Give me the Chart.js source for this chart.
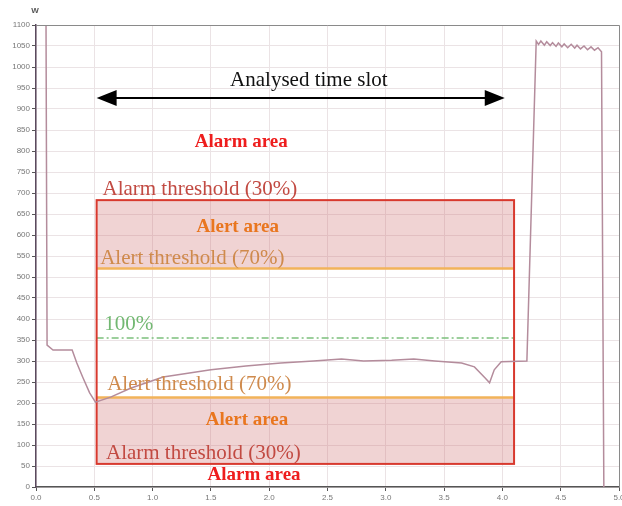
<!DOCTYPE html>
<html>
<head>
<meta charset="utf-8">
<script src="https://cdn.jsdelivr.net/npm/chart.js@4.4.0/dist/chart.umd.min.js"></script>
<style>
  html, body { margin: 0; padding: 0; background: #fff; }
  #wrap { width: 622px; height: 506px; position: relative; }
</style>
</head>
<body>
<div id="wrap"><canvas id="chart"></canvas></div>
<script>
// power curve (time in h, power in W)
const timeH = [0.085, 0.095, 0.146, 0.31, 0.35, 0.40, 0.46, 0.51, 0.64, 0.81, 1.09, 1.50, 1.80, 2.10, 2.38, 2.62,
  2.81, 3.05, 3.24, 3.42, 3.65, 3.76, 3.85, 3.89, 3.93, 3.99, 4.21, 4.29, 4.31, 4.33, 4.36, 4.38, 4.41, 4.43,
  4.46, 4.48, 4.51, 4.53, 4.56, 4.59, 4.62, 4.64, 4.67, 4.70, 4.73, 4.76, 4.79, 4.82, 4.85, 4.87];
const powerW = [1180, 338, 326, 326, 295, 262, 224, 202, 214, 235, 262, 279, 288, 295, 300, 305,
  300, 302, 305, 300, 295, 286, 260, 248, 279, 298, 300, 1062, 1054, 1062, 1052, 1060, 1051, 1058,
  1049, 1057, 1048, 1055, 1046, 1054, 1045, 1052, 1043, 1050, 1041, 1048, 1040, 1046, 1036, 0];

// analysed time slot and threshold levels
const slotStart = 0.52;
const slotEnd = 4.10;
const arrowEnd = 4.02;
const arrowLevel = 926;
const alarmHigh = 683;
const alertHigh = 520;
const nominalLevel = 355;
const alertLow = 213;
const alarmLow = 55;

const annotations = {
  id: "annotations",
  beforeDatasetsDraw(chart) {
    const { ctx, scales: { x, y } } = chart;
    const x0 = x.getPixelForValue(slotStart);
    const x1 = x.getPixelForValue(slotEnd);
    ctx.save();
    // shaded alert bands
    ctx.fillStyle = "rgba(205,110,110,0.30)";
    ctx.fillRect(x0, y.getPixelForValue(alarmHigh), x1 - x0, y.getPixelForValue(alertHigh) - y.getPixelForValue(alarmHigh));
    ctx.fillRect(x0, y.getPixelForValue(alertLow), x1 - x0, y.getPixelForValue(alarmLow) - y.getPixelForValue(alertLow));
    // alert threshold lines
    ctx.strokeStyle = "#f2b35a";
    ctx.lineWidth = 2.5;
    [alertHigh, alertLow].forEach((v) => {
      const py = y.getPixelForValue(v);
      ctx.beginPath();
      ctx.moveTo(x0, py);
      ctx.lineTo(x1, py);
      ctx.stroke();
    });
    // 100% line
    ctx.strokeStyle = "#7cc07c";
    ctx.lineWidth = 1.5;
    ctx.setLineDash([7, 3, 2, 3]);
    const pn = y.getPixelForValue(nominalLevel);
    ctx.beginPath();
    ctx.moveTo(x0, pn);
    ctx.lineTo(x1, pn);
    ctx.stroke();
    ctx.setLineDash([]);
    // alarm box
    ctx.strokeStyle = "#d8392e";
    ctx.lineWidth = 2;
    ctx.strokeRect(x0, y.getPixelForValue(alarmHigh), x1 - x0, y.getPixelForValue(alarmLow) - y.getPixelForValue(alarmHigh));
    ctx.restore();
  },
  afterDatasetsDraw(chart) {
    const { ctx, chartArea: a, scales: { x, y } } = chart;
    ctx.save();
    // frame on top and right
    ctx.strokeStyle = "#8a8a8a";
    ctx.lineWidth = 1;
    ctx.beginPath();
    ctx.moveTo(a.left, a.top + 0.5);
    ctx.lineTo(a.right + 0.5, a.top + 0.5);
    ctx.lineTo(a.right + 0.5, a.bottom);
    ctx.stroke();

    // double arrow
    const ay = y.getPixelForValue(arrowLevel);
    const ax0 = x.getPixelForValue(slotStart);
    const ax1 = x.getPixelForValue(arrowEnd);
    ctx.strokeStyle = "#000";
    ctx.fillStyle = "#000";
    ctx.lineWidth = 2;
    ctx.beginPath();
    ctx.moveTo(ax0 + 10, ay);
    ctx.lineTo(ax1 - 10, ay);
    ctx.stroke();
    ctx.beginPath();
    ctx.moveTo(ax0, ay);
    ctx.lineTo(ax0 + 20, ay - 8);
    ctx.lineTo(ax0 + 20, ay + 8);
    ctx.closePath();
    ctx.fill();
    ctx.beginPath();
    ctx.moveTo(ax1, ay);
    ctx.lineTo(ax1 - 20, ay - 8);
    ctx.lineTo(ax1 - 20, ay + 8);
    ctx.closePath();
    ctx.fill();

    const serif = "'Liberation Serif', 'DejaVu Serif', serif";
    const text = (s, vx, vy, font, color, align) => {
      ctx.font = font;
      ctx.fillStyle = color;
      ctx.textAlign = align;
      ctx.textBaseline = "middle";
      ctx.fillText(s, x.getPixelForValue(vx), y.getPixelForValue(vy));
    };
    text("Analysed time slot", 2.34, 967, "21px " + serif, "#111", "center");
    text("Alarm area", 1.76, 822, "bold 19px " + serif, "#ee1d1d", "center");
    text("Alarm threshold (30%)", 0.57, 709, "21px " + serif, "#c24a42", "left");
    text("Alert area", 1.73, 618, "bold 19px " + serif, "#e9761f", "center");
    text("Alert threshold (70%)", 0.55, 543, "21px " + serif, "#cf8a4c", "left");
    text("100%", 0.585, 387, "21px " + serif, "#72b872", "left");
    text("Alert threshold (70%)", 0.61, 243, "21px " + serif, "#cf8a4c", "left");
    text("Alert area", 1.81, 160, "bold 19px " + serif, "#e9761f", "center");
    text("Alarm threshold (30%)", 0.60, 79, "21px " + serif, "#c24a42", "left");
    text("Alarm area", 1.87, 28, "bold 19px " + serif, "#ee1d1d", "center");

    // unit label
    ctx.font = "bold 8px 'Liberation Sans', Arial, sans-serif";
    ctx.fillStyle = "#555";
    ctx.textAlign = "center";
    ctx.fillText("W", a.left - 1, a.top - 14);
    ctx.restore();
  }
};

new Chart(document.getElementById("chart"), {
  type: "line",
  data: {
    datasets: [{
      data: timeH.map((t, i) => ({ x: t, y: powerW[i] })),
      borderColor: "#b48c9c",
      borderWidth: 1.5,
      pointRadius: 0,
      tension: 0,
      fill: false
    }]
  },
  options: {
    responsive: true,
    maintainAspectRatio: false,
    animation: false,
    layout: { padding: { top: 25, right: 3, left: 0, bottom: 0 } },
    plugins: { legend: { display: false }, tooltip: { enabled: false } },
    scales: {
      x: {
        type: "linear",
        min: 0,
        max: 5,
        afterFit: (s) => { s.height = 19; s.paddingRight = 0; s.paddingLeft = 0; },
        ticks: {
          stepSize: 0.5,
          padding: 2,
          color: "#777",
          font: { size: 8, family: "'Liberation Sans', Arial, sans-serif" },
          callback: (v) => v.toFixed(1),
          maxRotation: 0
        },
        grid: { color: "#ebe3e5", tickColor: "#555", tickLength: 4 },
        border: { color: "#555", width: 1.5 }
      },
      y: {
        min: 0,
        max: 1100,
        afterFit: (s) => { s.width = 36; },
        ticks: {
          stepSize: 50,
          padding: 2,
          color: "#777",
          font: { size: 8, family: "'Liberation Sans', Arial, sans-serif" },
          callback: (v) => String(v),
          autoSkip: false
        },
        grid: { color: "#ebe3e5", tickColor: "#555", tickLength: 4 },
        border: { color: "#5a4a5e", width: 1.5 }
      }
    }
  },
  plugins: [annotations]
});
</script>
</body>
</html>
